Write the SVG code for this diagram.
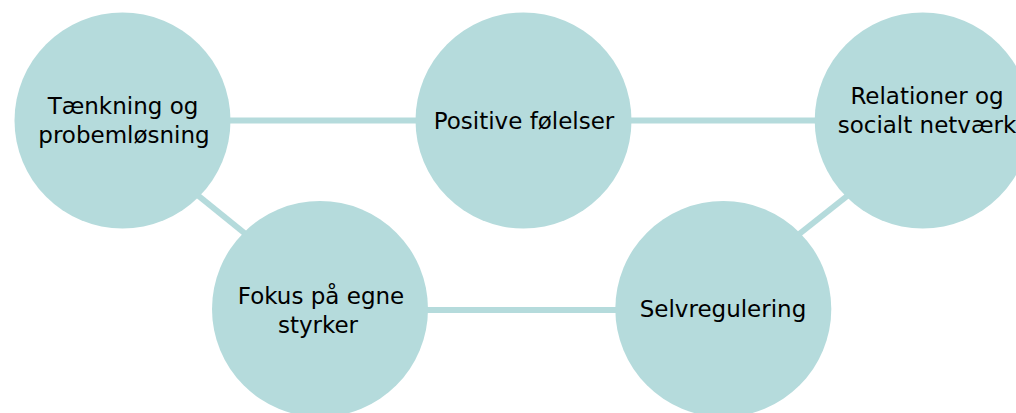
<svg xmlns="http://www.w3.org/2000/svg" width="1016" height="413" viewBox="0 0 1016 413">
<style>
.node{fill:#b5dbdc}
.lbl{font-family:"DejaVu Sans",Verdana,sans-serif;font-size:23px;fill:#000;text-anchor:middle}
.conn{stroke:#b5dbdc;stroke-width:6;fill:none}
</style>
<rect width="1016" height="413" fill="#fff"/>
<g id="connectors">
<line class="conn" x1="122.5" y1="120.5" x2="523.5" y2="120.5"/>
<line class="conn" x1="523.5" y1="120.5" x2="922.7" y2="120.5"/>
<line class="conn" x1="320" y1="310" x2="723.3" y2="310"/>
<line class="conn" x1="190" y1="189" x2="253" y2="240"/>
<line class="conn" x1="791" y1="240.5" x2="856" y2="189"/>
</g>
<g id="n1">
<circle class="node" cx="122.5" cy="120.5" r="108"/>
<text class="lbl" x="123" y="113.5">Tænkning og</text>
<text class="lbl" x="124" y="142.5">probemløsning</text>
</g>
<g id="n2">
<circle class="node" cx="523.5" cy="120.5" r="108"/>
<text class="lbl" x="524" y="129.3">Positive følelser</text>
</g>
<g id="n3">
<circle class="node" cx="922.7" cy="120.5" r="108"/>
<text class="lbl" x="927" y="103.5">Relationer og</text>
<text class="lbl" x="927" y="133.3">socialt netværk</text>
</g>
<g id="n4">
<circle class="node" cx="320" cy="309" r="108"/>
<text class="lbl" x="321" y="303.7">Fokus på egne</text>
<text class="lbl" x="318" y="333">styrker</text>
</g>
<g id="n5">
<circle class="node" cx="723.3" cy="309" r="108"/>
<text class="lbl" x="723" y="316.7">Selvregulering</text>
</g>
</svg>
